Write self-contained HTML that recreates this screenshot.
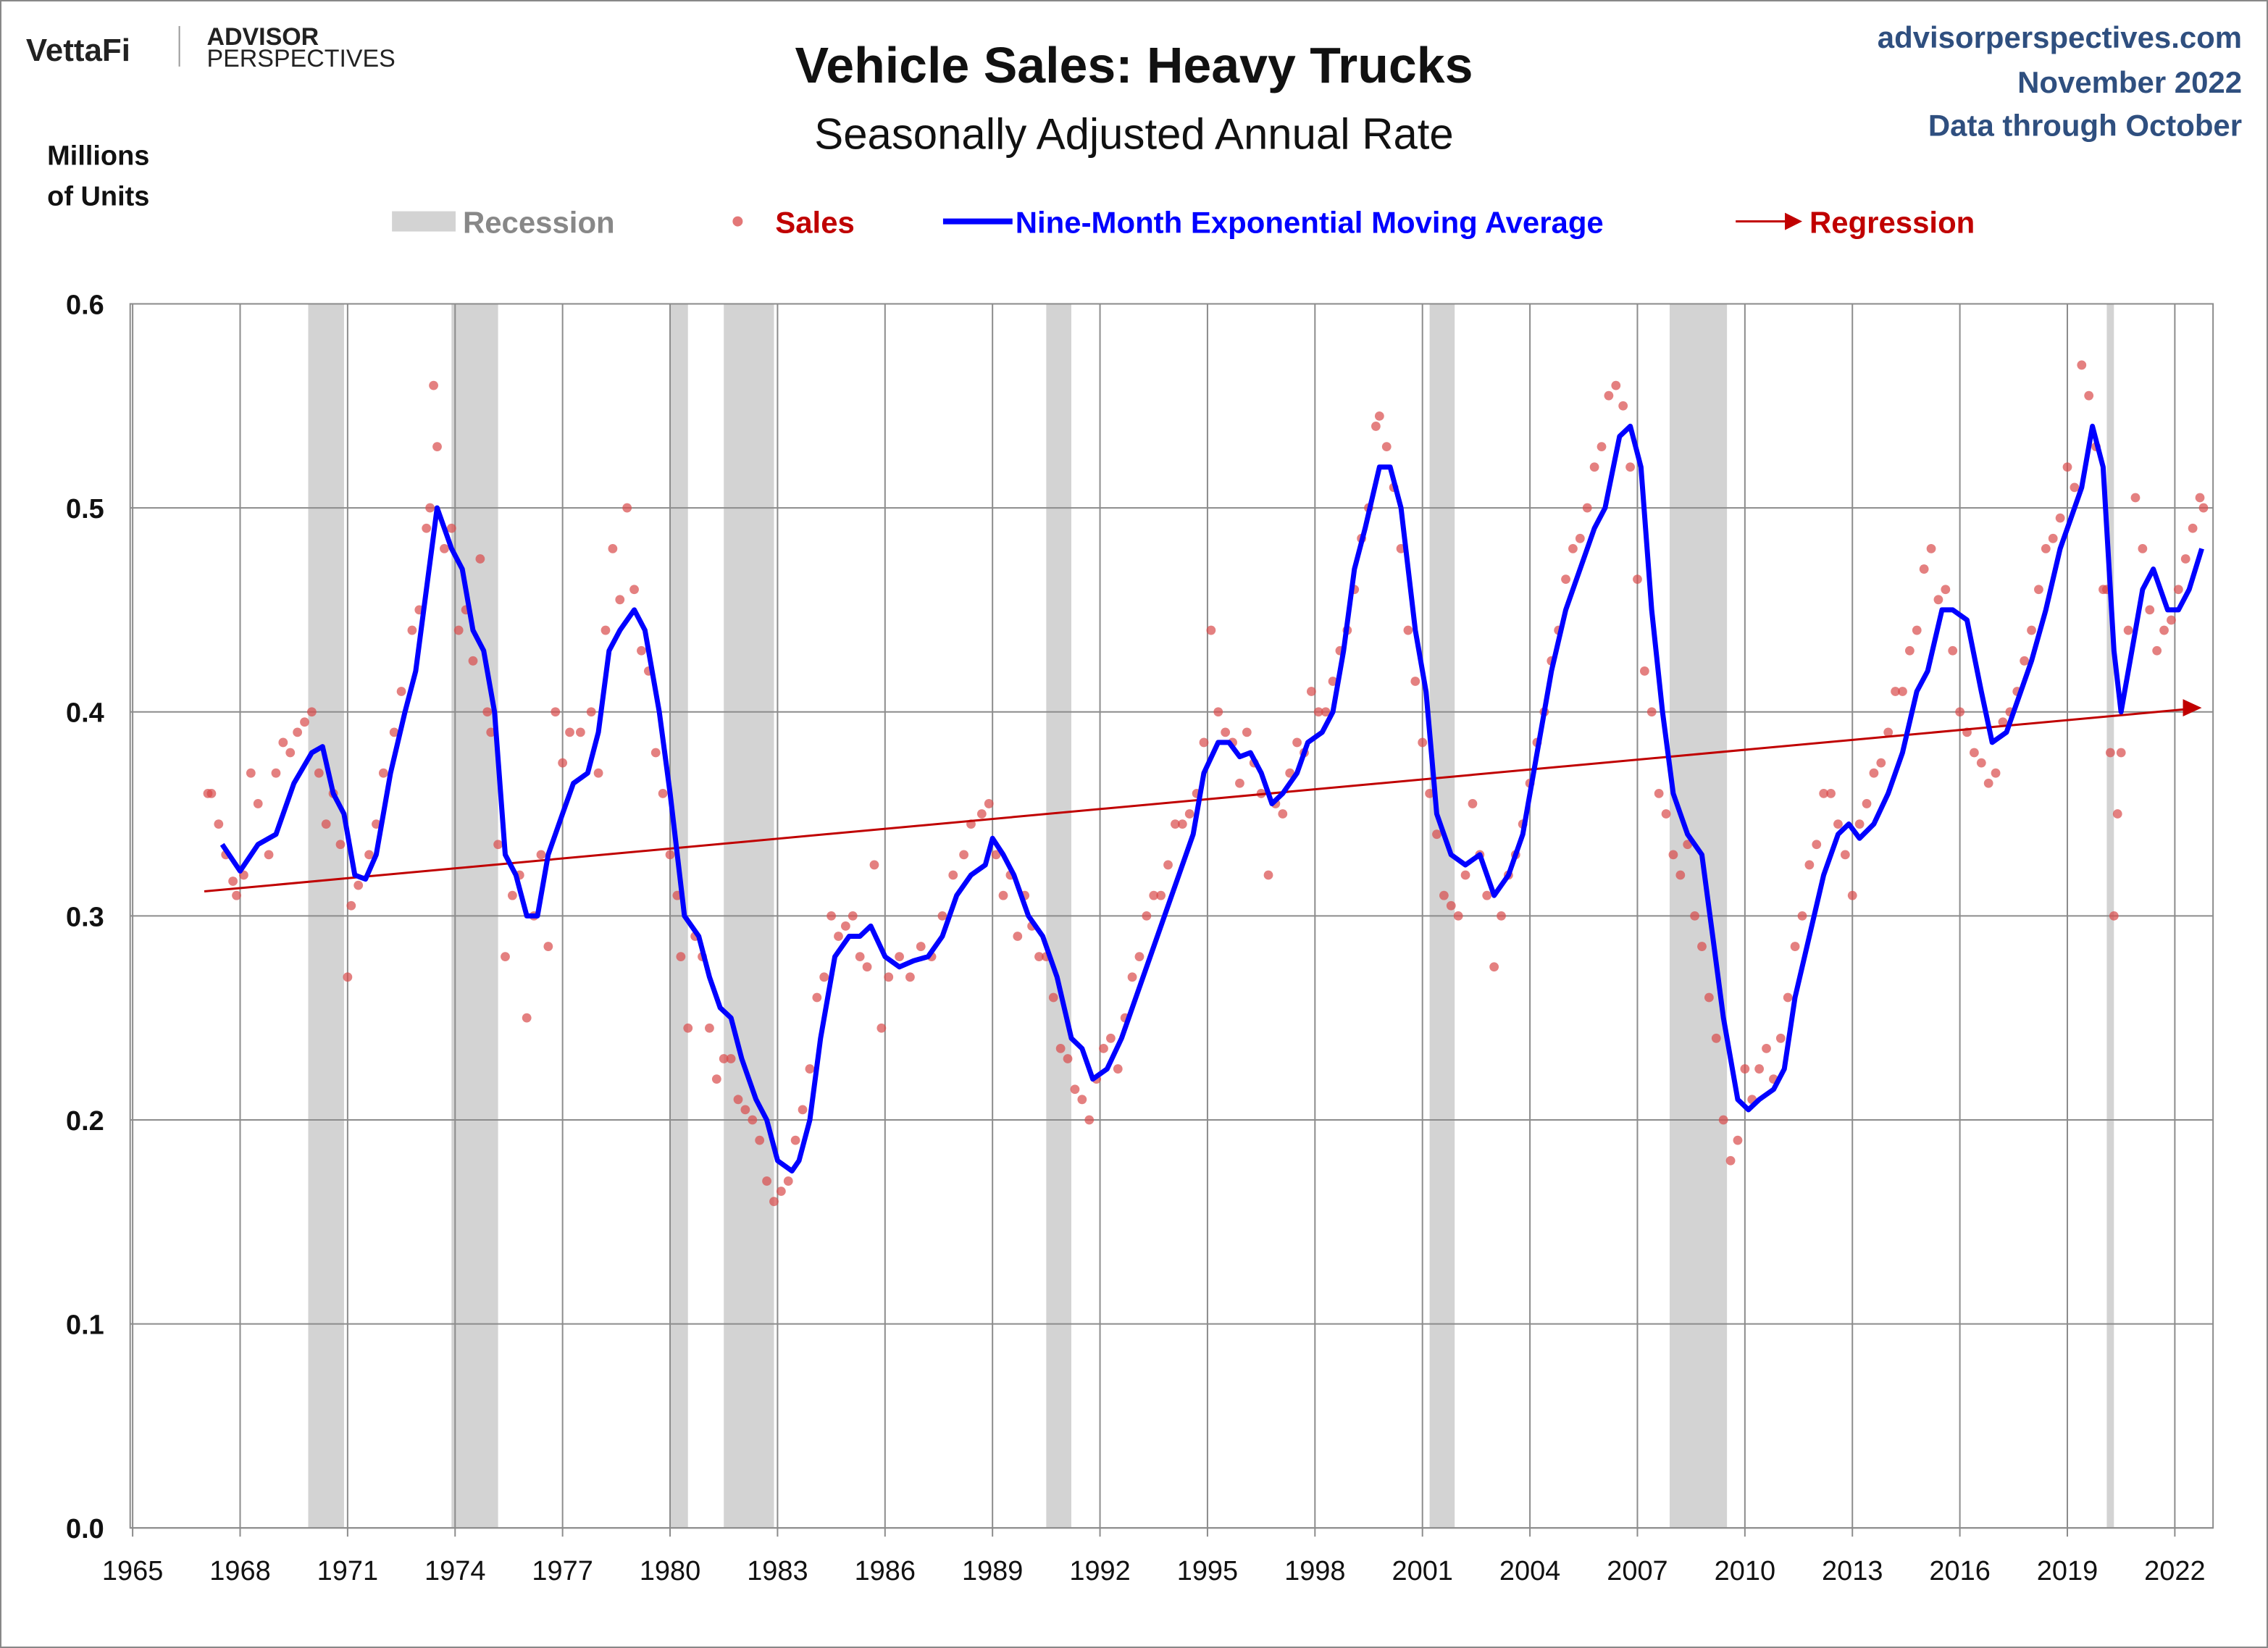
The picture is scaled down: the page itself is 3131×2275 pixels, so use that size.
<!DOCTYPE html>
<html><head><meta charset="utf-8"><style>
html,body{margin:0;padding:0;background:#fff;}
svg{display:block;font-family:"Liberation Sans",sans-serif;}
</style></head><body>
<svg id="chart" width="3131" height="2275" viewBox="0 0 1568 1139" preserveAspectRatio="none" xmlns="http://www.w3.org/2000/svg">
<rect x="0.5" y="0.5" width="1567" height="1138" fill="#fff" stroke="#888" stroke-width="1"/>
<g>
<text x="18" y="42" font-size="22" font-weight="bold" fill="#222">VettaFi</text>
<line x1="124" y1="18" x2="124" y2="46" stroke="#999" stroke-width="1"/>
<text x="143" y="31" font-size="17" font-weight="bold" fill="#222">ADVISOR</text>
<text x="143" y="46" font-size="17" fill="#222">PERSPECTIVES</text>
</g>
<text x="784" y="57" text-anchor="middle" font-size="35" font-weight="bold" fill="#111">Vehicle Sales: Heavy Trucks</text>
<text x="784" y="103" text-anchor="middle" font-size="30" fill="#111">Seasonally Adjusted Annual Rate</text>
<text x="1550" y="33" text-anchor="end" font-size="21" font-weight="bold" fill="#2f4f7f">advisorperspectives.com</text>
<text x="1550" y="64" text-anchor="end" font-size="21" font-weight="bold" fill="#2f4f7f">November 2022</text>
<text x="1550" y="94" text-anchor="end" font-size="21" font-weight="bold" fill="#2f4f7f">Data through October</text>
<text x="68" y="114" text-anchor="middle" font-size="19" font-weight="bold" fill="#111"><tspan x="68">Millions</tspan><tspan x="68" dy="28">of Units</tspan></text>
<g>
<rect x="271" y="146" width="44" height="14" fill="#d3d3d3"/>
<text x="320" y="161" font-size="21" font-weight="bold" fill="#888">Recession</text>
<circle cx="510" cy="153" r="3.5" fill="#d94a4a" opacity="0.75"/>
<text x="536" y="161" font-size="21" font-weight="bold" fill="#c00000">Sales</text>
<line x1="652" y1="153" x2="700" y2="153" stroke="#0000ff" stroke-width="4"/>
<text x="702" y="161" font-size="21" font-weight="bold" fill="#0000ff">Nine-Month Exponential Moving Average</text>
<line x1="1200" y1="153" x2="1236" y2="153" stroke="#c00000" stroke-width="1.5"/>
<polygon points="1246,153 1234,147 1234,159" fill="#c00000"/>
<text x="1251" y="161" font-size="21" font-weight="bold" fill="#c00000">Regression</text>
</g>
<g id="plot"></g>
</svg>
<script>
const yTicks=[0,0.1,0.2,0.3,0.4,0.5,0.6];
const yTickLabels=["0.0","0.1","0.2","0.3","0.4","0.5","0.6"];
const xTicks=[1965,1968,1971,1974,1977,1980,1983,1986,1989,1992,1995,1998,2001,2004,2007,2010,2013,2016,2019,2022];
const recStart=[1969.9,1973.9,1980.0,1981.5,1990.5,2001.2,2007.9,2020.1];
const recEnd=[1970.9,1975.2,1980.5,1982.9,1991.2,2001.9,2009.5,2020.3];
const emaDates=[1967.5,1968.0,1968.5,1969.0,1969.5,1970.0,1970.3,1970.6,1970.9,1971.2,1971.5,1971.8,1972.2,1972.6,1972.9,1973.2,1973.5,1973.9,1974.2,1974.5,1974.8,1975.1,1975.4,1975.7,1976.0,1976.3,1976.6,1977.0,1977.3,1977.7,1978.0,1978.3,1978.6,1979.0,1979.3,1979.7,1980.0,1980.4,1980.8,1981.1,1981.4,1981.7,1982.0,1982.4,1982.7,1983.0,1983.4,1983.6,1983.9,1984.2,1984.6,1985.0,1985.3,1985.6,1986.0,1986.4,1986.8,1987.2,1987.6,1988.0,1988.4,1988.8,1989.0,1989.3,1989.6,1990.0,1990.4,1990.8,1991.2,1991.5,1991.8,1992.2,1992.6,1993.0,1993.4,1993.8,1994.2,1994.6,1994.9,1995.3,1995.6,1995.9,1996.2,1996.5,1996.8,1997.1,1997.5,1997.8,1998.2,1998.5,1998.8,1999.1,1999.4,1999.8,2000.1,2000.4,2000.8,2001.1,2001.4,2001.8,2002.2,2002.6,2003.0,2003.4,2003.8,2004.2,2004.6,2005.0,2005.4,2005.8,2006.1,2006.5,2006.8,2007.1,2007.4,2007.7,2008.0,2008.4,2008.8,2009.1,2009.4,2009.8,2010.1,2010.4,2010.8,2011.1,2011.4,2011.8,2012.2,2012.6,2012.9,2013.2,2013.6,2014.0,2014.4,2014.8,2015.1,2015.5,2015.8,2016.2,2016.6,2016.9,2017.3,2017.7,2018.0,2018.4,2018.8,2019.1,2019.4,2019.7,2020.0,2020.3,2020.5,2020.8,2021.1,2021.4,2021.8,2022.1,2022.4,2022.75];
const emaValues=[0.335,0.322,0.335,0.34,0.365,0.38,0.383,0.36,0.35,0.32,0.318,0.33,0.37,0.40,0.42,0.46,0.50,0.48,0.47,0.44,0.43,0.40,0.33,0.32,0.30,0.30,0.33,0.35,0.365,0.37,0.39,0.43,0.44,0.45,0.44,0.40,0.36,0.30,0.29,0.27,0.255,0.25,0.23,0.21,0.20,0.18,0.175,0.18,0.20,0.24,0.28,0.29,0.29,0.295,0.28,0.275,0.278,0.28,0.29,0.31,0.32,0.325,0.338,0.33,0.32,0.30,0.29,0.27,0.24,0.235,0.22,0.225,0.24,0.26,0.28,0.30,0.32,0.34,0.37,0.385,0.385,0.378,0.38,0.37,0.355,0.36,0.37,0.385,0.39,0.40,0.43,0.47,0.49,0.52,0.52,0.50,0.44,0.41,0.35,0.33,0.325,0.33,0.31,0.32,0.34,0.38,0.42,0.45,0.47,0.49,0.50,0.535,0.54,0.52,0.45,0.40,0.36,0.34,0.33,0.29,0.25,0.21,0.205,0.21,0.215,0.225,0.26,0.29,0.32,0.34,0.345,0.338,0.345,0.36,0.38,0.41,0.42,0.45,0.45,0.445,0.41,0.385,0.39,0.41,0.425,0.45,0.48,0.495,0.51,0.54,0.52,0.43,0.40,0.43,0.46,0.47,0.45,0.45,0.46,0.48];
const salesDates=[1967.1,1967.2,1967.4,1967.6,1967.8,1967.9,1968.1,1968.3,1968.5,1968.8,1969.0,1969.2,1969.4,1969.6,1969.8,1970.0,1970.2,1970.4,1970.6,1970.8,1971.0,1971.1,1971.3,1971.6,1971.8,1972.0,1972.3,1972.5,1972.8,1973.0,1973.2,1973.3,1973.4,1973.5,1973.7,1973.9,1974.1,1974.3,1974.5,1974.7,1974.9,1975.0,1975.2,1975.4,1975.6,1975.8,1976.0,1976.2,1976.4,1976.6,1976.8,1977.0,1977.2,1977.5,1977.8,1978.0,1978.2,1978.4,1978.6,1978.8,1979.0,1979.2,1979.4,1979.6,1979.8,1980.0,1980.2,1980.3,1980.5,1980.7,1980.9,1981.1,1981.3,1981.5,1981.7,1981.9,1982.1,1982.3,1982.5,1982.7,1982.9,1983.1,1983.3,1983.5,1983.7,1983.9,1984.1,1984.3,1984.5,1984.7,1984.9,1985.1,1985.3,1985.5,1985.7,1985.9,1986.1,1986.4,1986.7,1987.0,1987.3,1987.6,1987.9,1988.2,1988.4,1988.7,1988.9,1989.1,1989.3,1989.5,1989.7,1989.9,1990.1,1990.3,1990.5,1990.7,1990.9,1991.1,1991.3,1991.5,1991.7,1991.9,1992.1,1992.3,1992.5,1992.7,1992.9,1993.1,1993.3,1993.5,1993.7,1993.9,1994.1,1994.3,1994.5,1994.7,1994.9,1995.1,1995.3,1995.5,1995.7,1995.9,1996.1,1996.3,1996.5,1996.7,1996.9,1997.1,1997.3,1997.5,1997.7,1997.9,1998.1,1998.3,1998.5,1998.7,1998.9,1999.1,1999.3,1999.5,1999.7,1999.8,2000.0,2000.2,2000.4,2000.6,2000.8,2001.0,2001.2,2001.4,2001.6,2001.8,2002.0,2002.2,2002.4,2002.6,2002.8,2003.0,2003.2,2003.4,2003.6,2003.8,2004.0,2004.2,2004.4,2004.6,2004.8,2005.0,2005.2,2005.4,2005.6,2005.8,2006.0,2006.2,2006.4,2006.6,2006.8,2007.0,2007.2,2007.4,2007.6,2007.8,2008.0,2008.2,2008.4,2008.6,2008.8,2009.0,2009.2,2009.4,2009.6,2009.8,2010.0,2010.2,2010.4,2010.6,2010.8,2011.0,2011.2,2011.4,2011.6,2011.8,2012.0,2012.2,2012.4,2012.6,2012.8,2013.0,2013.2,2013.4,2013.6,2013.8,2014.0,2014.2,2014.4,2014.6,2014.8,2015.0,2015.2,2015.4,2015.6,2015.8,2016.0,2016.2,2016.4,2016.6,2016.8,2017.0,2017.2,2017.4,2017.6,2017.8,2018.0,2018.2,2018.4,2018.6,2018.8,2019.0,2019.2,2019.4,2019.6,2019.8,2020.0,2020.1,2020.2,2020.3,2020.4,2020.5,2020.7,2020.9,2021.1,2021.3,2021.5,2021.7,2021.9,2022.1,2022.3,2022.5,2022.7,2022.8];
const salesValues=[0.36,0.36,0.345,0.33,0.317,0.31,0.32,0.37,0.355,0.33,0.37,0.385,0.38,0.39,0.395,0.40,0.37,0.345,0.36,0.335,0.27,0.305,0.315,0.33,0.345,0.37,0.39,0.41,0.44,0.45,0.49,0.50,0.56,0.53,0.48,0.49,0.44,0.45,0.425,0.475,0.40,0.39,0.335,0.28,0.31,0.32,0.25,0.30,0.33,0.285,0.40,0.375,0.39,0.39,0.40,0.37,0.44,0.48,0.455,0.50,0.46,0.43,0.42,0.38,0.36,0.33,0.31,0.28,0.245,0.29,0.28,0.245,0.22,0.23,0.23,0.21,0.205,0.20,0.19,0.17,0.16,0.165,0.17,0.19,0.205,0.225,0.26,0.27,0.30,0.29,0.295,0.30,0.28,0.275,0.325,0.245,0.27,0.28,0.27,0.285,0.28,0.30,0.32,0.33,0.345,0.35,0.355,0.33,0.31,0.32,0.29,0.31,0.295,0.28,0.28,0.26,0.235,0.23,0.215,0.21,0.20,0.22,0.235,0.24,0.225,0.25,0.27,0.28,0.30,0.31,0.31,0.325,0.345,0.345,0.35,0.36,0.385,0.44,0.40,0.39,0.385,0.365,0.39,0.375,0.36,0.32,0.355,0.35,0.37,0.385,0.38,0.41,0.40,0.40,0.415,0.43,0.44,0.46,0.485,0.50,0.54,0.545,0.53,0.51,0.48,0.44,0.415,0.385,0.36,0.34,0.31,0.305,0.30,0.32,0.355,0.33,0.31,0.275,0.30,0.32,0.33,0.345,0.365,0.385,0.40,0.425,0.44,0.465,0.48,0.485,0.50,0.52,0.53,0.555,0.56,0.55,0.52,0.465,0.42,0.40,0.36,0.35,0.33,0.32,0.335,0.30,0.285,0.26,0.24,0.20,0.18,0.19,0.225,0.21,0.225,0.235,0.22,0.24,0.26,0.285,0.30,0.325,0.335,0.36,0.36,0.345,0.33,0.31,0.345,0.355,0.37,0.375,0.39,0.41,0.41,0.43,0.44,0.47,0.48,0.455,0.46,0.43,0.40,0.39,0.38,0.375,0.365,0.37,0.395,0.40,0.41,0.425,0.44,0.46,0.48,0.485,0.495,0.52,0.51,0.57,0.555,0.53,0.46,0.46,0.38,0.30,0.35,0.38,0.44,0.505,0.48,0.45,0.43,0.44,0.445,0.46,0.475,0.49,0.505,0.50];
const regDates=[1967.0,2022.75];
const regValues=[0.312,0.402];

const NS="http://www.w3.org/2000/svg";
const plot=document.getElementById('plot');
const X0=91.7,PXY=24.77,Y0=1056,PXV=1410,L=90,R=1530,T=210;
function xs(d){return X0+(d-1965)*PXY;}
function ys(v){return Y0-v*PXV;}
function mk(tag,attrs){const e=document.createElementNS(NS,tag);for(const k in attrs)e.setAttribute(k,attrs[k]);plot.appendChild(e);return e;}

for(let i=0;i<recStart.length;i++){
  const r=mk('rect',{x:xs(recStart[i]),y:T,width:xs(recEnd[i])-xs(recStart[i]),height:Y0-T,fill:'#d3d3d3'});
  
  
}
yTicks.forEach((v,i)=>{
  const g=mk('line',{x1:L,x2:R,y1:ys(v),y2:ys(v),stroke:'#8c8c8c','stroke-width':1});
  
  
  const t=mk('text',{x:L-18,y:ys(v)+7,'text-anchor':'end','font-size':19,'font-weight':'bold',fill:'#111'});
  t.textContent=yTickLabels[i];
  
  
});
xTicks.forEach(d=>{
  const g=mk('line',{x1:xs(d),x2:xs(d),y1:T,y2:Y0+6,stroke:'#8c8c8c','stroke-width':1});
  
  
  const t=mk('text',{x:xs(d),y:Y0+36,'text-anchor':'middle','font-size':19,fill:'#111'});
  t.textContent=String(d);
  
  
});
const rb=mk('rect',{x:L,y:T,width:R-L,height:Y0-T,fill:'none',stroke:'#8c8c8c','stroke-width':1});


salesDates.forEach((d,i)=>{
  const c=mk('circle',{cx:xs(d),cy:ys(salesValues[i]),r:3.2,fill:'#d94a4a',opacity:0.7});
  
  
});
const x1=xs(regDates[0]),y1=ys(regValues[0]),x2=xs(regDates[1]),y2=ys(regValues[1]);
const rl=mk('line',{x1:x1,y1:y1,x2:x2-10,y2:y2+(y1-y2)*10/(x2-x1),stroke:'#c00000','stroke-width':1.5});


const ra=mk('polygon',{points:`${x2},${y2} ${x2-13},${y2-6} ${x2-13},${y2+6}`,fill:'#c00000'});


const pts=emaDates.map((d,i)=>xs(d).toFixed(1)+','+ys(emaValues[i]).toFixed(1)).join(' ');
const ema=mk('polyline',{points:pts,fill:'none',stroke:'#0000ff','stroke-width':3.5,'stroke-linejoin':'round'});


</script>
</body></html>
